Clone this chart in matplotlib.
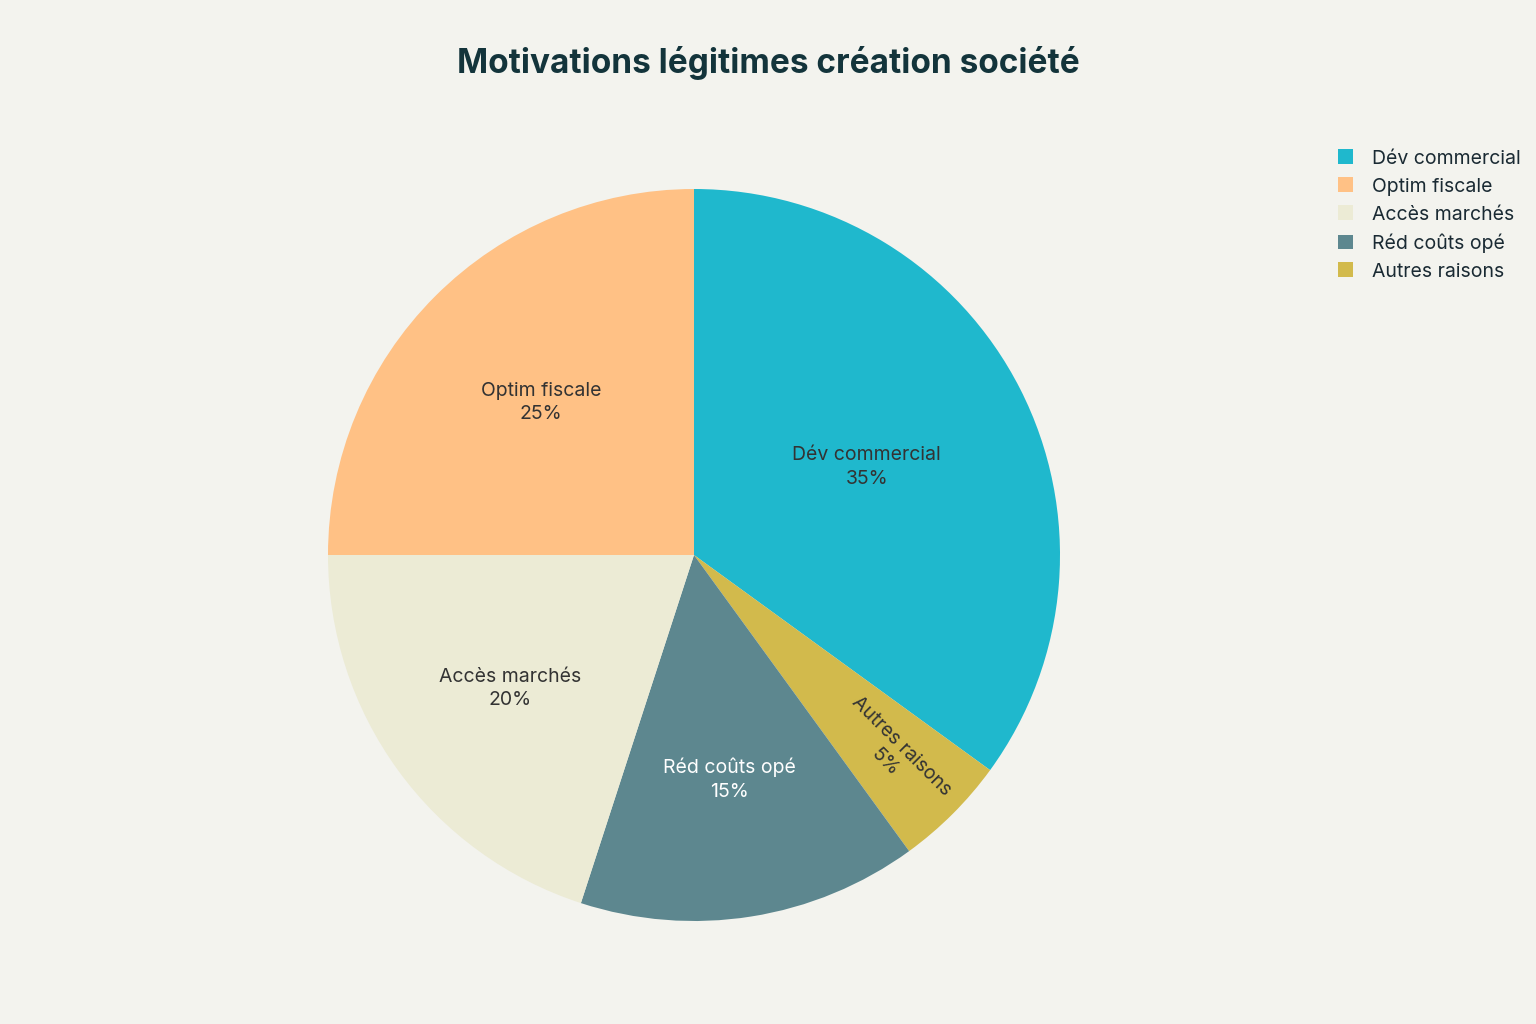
import matplotlib
matplotlib.use("Agg")
import matplotlib.pyplot as plt
from matplotlib.patches import Patch

plt.rcParams['font.family'] = ['Inter', 'DejaVu Sans']

labels = ["Dév commercial", "Optim fiscale", "Accès marchés", "Réd coûts opé", "Autres raisons"]
values = [35, 25, 20, 15, 5]
colors = ["#1FB8CD", "#FFC185", "#ECEBD5", "#5D878F", "#D2BA4C"]

bg = "#F3F3EE"
fig = plt.figure(figsize=(15.36, 10.24), dpi=100, facecolor=bg)
ax = fig.add_axes([694/1536 - 366/1536, 1 - 555/1024 - 366/1024, 732/1536, 732/1024])
ax.set_facecolor(bg)

# drawing order clockwise from top, as in the reference
order = [0, 4, 3, 2, 1]
wedges, texts = ax.pie([values[i] for i in order], colors=[colors[i] for i in order],
                       startangle=90, counterclock=False, radius=1,
                       wedgeprops=dict(linewidth=0))
ax.set_xlim(-1, 1)
ax.set_ylim(-1, 1)
ax.set_aspect('auto')

dists = {0: 0.53, 1: 0.59, 2: 0.62, 3: 0.62, 4: 0.77}
for w, i in zip(wedges, order):
    import numpy as np
    ang = np.deg2rad((w.theta1 + w.theta2) / 2)
    r = dists[i]
    rot = 0
    if i == 4:
        rot = np.rad2deg(ang)
    ax.text(r * np.cos(ang), r * np.sin(ang), f"{labels[i]}\n{values[i]}%",
            ha='center', va='center', fontsize=14, rotation=rot,
            color='white' if i == 3 else '#333333', linespacing=1.4)

handles = [Patch(facecolor=c, edgecolor='none') for c in colors]
fig.legend(handles, labels, loc='upper left', bbox_to_anchor=(1320/1536, 1 - 132/1024),
           frameon=False, fontsize=14, handlelength=0.8, handleheight=0.8,
           labelspacing=0.5, handletextpad=1.0, labelcolor='#1a2a33')

fig.text(0.5, 1 - 63/1024, "Motivations légitimes création société", ha='center', va='center',
         fontsize=24, fontweight='bold', color='#13343B')

fig.savefig("out.png", dpi=100, facecolor=bg)
